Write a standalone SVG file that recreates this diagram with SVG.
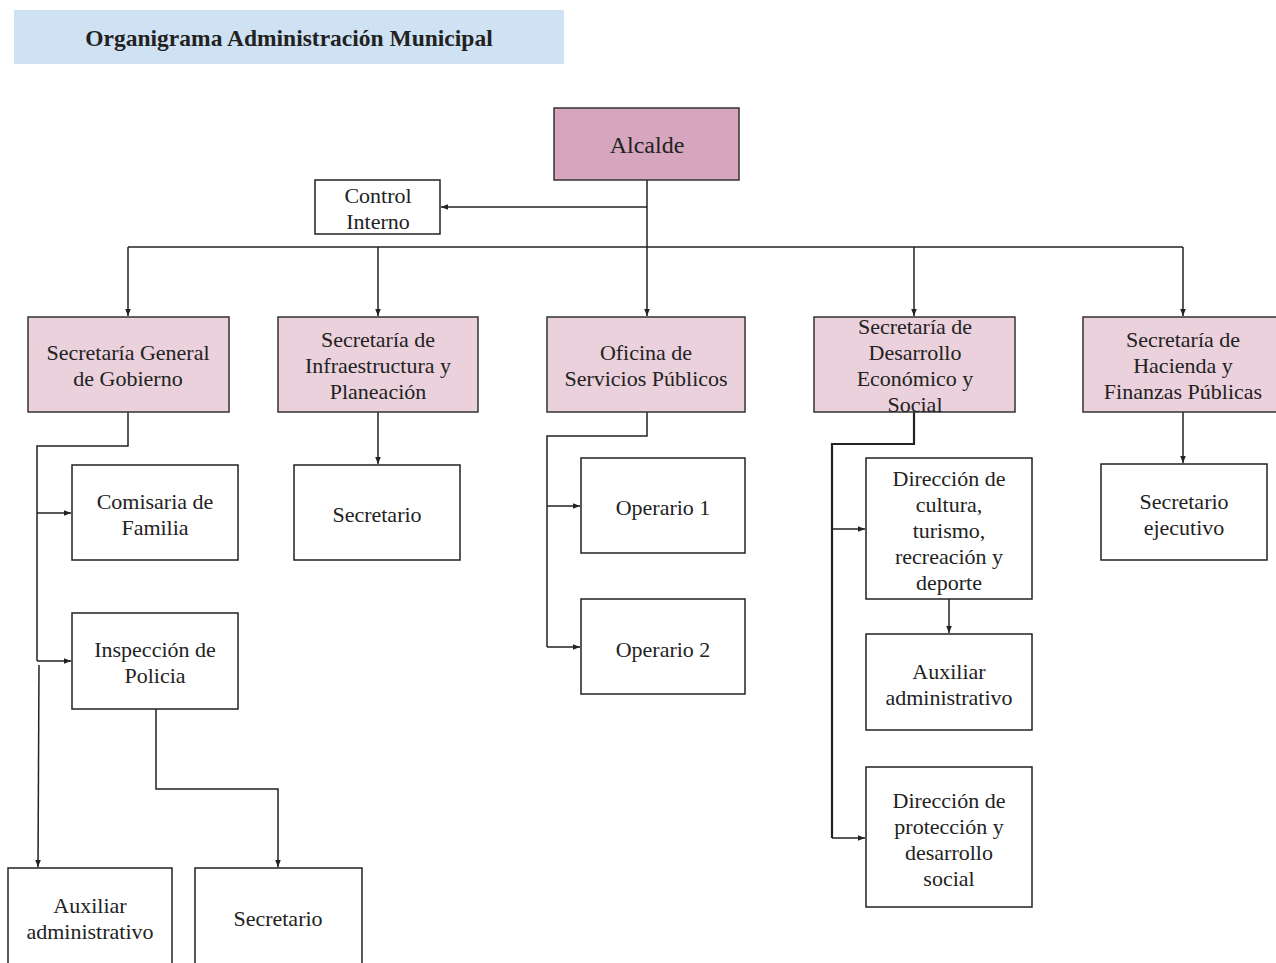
<svg xmlns="http://www.w3.org/2000/svg" width="1276" height="963" viewBox="0 0 1276 963">
<defs>
<marker id="arr" viewBox="0 0 10 10" refX="10" refY="5" markerWidth="7" markerHeight="7" markerUnits="userSpaceOnUse" orient="auto">
<path d="M0,1 L10,5 L0,9 z" fill="#222"/>
</marker>
<style>
.t{font-family:"Liberation Serif","Times New Roman",serif;font-size:22px;fill:#222;text-anchor:middle}
.b{fill:#fff;stroke:#222;stroke-width:1.5}
.p{fill:#ead1dc;stroke:#333;stroke-width:1.5}
.c{fill:none;stroke:#222;stroke-width:1.5}
.ca{fill:none;stroke:#222;stroke-width:1.5;marker-end:url(#arr)}
</style>
</defs>
<rect width="1276" height="963" fill="#fff"/>
<g id="title">
<rect x="14" y="10" width="550" height="54" fill="#cfe2f3"/>
<text x="289" y="46" class="t" style="font-weight:bold;font-size:23.5px">Organigrama Administración Municipal</text>
</g>
<g id="connectors">
<line x1="647" y1="180" x2="647" y2="316" class="ca"/>
<line x1="647" y1="207" x2="441" y2="207" class="ca"/>
<line x1="128" y1="247" x2="1183" y2="247" class="c"/>
<line x1="128" y1="247" x2="128" y2="316" class="ca"/>
<line x1="378" y1="247" x2="378" y2="316" class="ca"/>
<line x1="914" y1="247" x2="914" y2="316" class="ca"/>
<line x1="1183" y1="247" x2="1183" y2="316" class="ca"/>
<polyline points="128,412 128,446 37,446 37,661" class="c"/>
<line x1="37" y1="513" x2="71" y2="513" class="ca"/>
<line x1="37" y1="661" x2="71" y2="661" class="ca"/>
<line x1="39" y1="665" x2="38" y2="867" class="ca"/>
<polyline points="156,709 156,789 278,789 278,867" class="ca"/>
<line x1="378" y1="412" x2="378" y2="464" class="ca"/>
<polyline points="647,412 647,436 547,436 547,647" class="c"/>
<line x1="547" y1="506" x2="580" y2="506" class="ca"/>
<line x1="547" y1="647" x2="580" y2="647" class="ca"/>
<polyline points="914,412 914,444 832,444 832,838" fill="none" stroke="#222" stroke-width="2.2"/>
<line x1="832" y1="529" x2="865" y2="529" class="ca"/>
<line x1="832" y1="838" x2="865" y2="838" class="ca"/>
<line x1="949" y1="599" x2="949" y2="633" class="ca"/>
<line x1="1183" y1="412" x2="1183" y2="463" class="ca"/>
</g>
<g id="alcalde">
<rect x="554" y="108" width="185" height="72" fill="#d5a6bd" stroke="#333" stroke-width="1.5"/>
<text x="647" y="153" class="t" style="font-size:24px">Alcalde</text>
</g>
<g id="control-interno">
<rect x="315" y="180" width="125" height="54" class="b"/>
<text class="t"><tspan x="378" y="203">Control</tspan><tspan x="378" y="229">Interno</tspan></text>
</g>
<g id="sec-gobierno">
<rect x="28" y="317" width="201" height="95" class="p"/>
<text class="t"><tspan x="128" y="360">Secretaría General</tspan><tspan x="128" y="386">de Gobierno</tspan></text>
</g>
<g id="sec-infraestructura">
<rect x="278" y="317" width="200" height="95" class="p"/>
<text class="t"><tspan x="378" y="347">Secretaría de</tspan><tspan x="378" y="373">Infraestructura y</tspan><tspan x="378" y="399">Planeación</tspan></text>
</g>
<g id="oficina-servicios">
<rect x="547" y="317" width="198" height="95" class="p"/>
<text class="t"><tspan x="646" y="360">Oficina de</tspan><tspan x="646" y="386">Servicios Públicos</tspan></text>
</g>
<g id="sec-desarrollo">
<rect x="814" y="317" width="201" height="95" class="p"/>
<text class="t"><tspan x="915" y="334">Secretaría de</tspan><tspan x="915" y="360">Desarrollo</tspan><tspan x="915" y="386">Económico y</tspan><tspan x="915" y="412">Social</tspan></text>
</g>
<g id="sec-hacienda">
<rect x="1083" y="317" width="194" height="95" class="p"/>
<text class="t"><tspan x="1183" y="347">Secretaría de</tspan><tspan x="1183" y="373">Hacienda y</tspan><tspan x="1183" y="399">Finanzas Públicas</tspan></text>
</g>
<g id="comisaria">
<rect x="72" y="465" width="166" height="95" class="b"/>
<text class="t"><tspan x="155" y="509">Comisaria de</tspan><tspan x="155" y="535">Familia</tspan></text>
</g>
<g id="inspeccion">
<rect x="72" y="613" width="166" height="96" class="b"/>
<text class="t"><tspan x="155" y="657">Inspección de</tspan><tspan x="155" y="683">Policia</tspan></text>
</g>
<g id="auxiliar-gobierno">
<rect x="8" y="868" width="164" height="100" class="b"/>
<text class="t"><tspan x="90" y="913">Auxiliar</tspan><tspan x="90" y="939">administrativo</tspan></text>
</g>
<g id="secretario-inspeccion">
<rect x="195" y="868" width="167" height="100" class="b"/>
<text x="278" y="926" class="t">Secretario</text>
</g>
<g id="secretario-infra">
<rect x="294" y="465" width="166" height="95" class="b"/>
<text x="377" y="522" class="t">Secretario</text>
</g>
<g id="operario1">
<rect x="581" y="458" width="164" height="95" class="b"/>
<text x="663" y="515" class="t">Operario 1</text>
</g>
<g id="operario2">
<rect x="581" y="599" width="164" height="95" class="b"/>
<text x="663" y="657" class="t">Operario 2</text>
</g>
<g id="dir-cultura">
<rect x="866" y="458" width="166" height="141" class="b"/>
<text class="t"><tspan x="949" y="486">Dirección de</tspan><tspan x="949" y="512">cultura,</tspan><tspan x="949" y="538">turismo,</tspan><tspan x="949" y="564">recreación y</tspan><tspan x="949" y="590">deporte</tspan></text>
</g>
<g id="auxiliar-cultura">
<rect x="866" y="634" width="166" height="96" class="b"/>
<text class="t"><tspan x="949" y="679">Auxiliar</tspan><tspan x="949" y="705">administrativo</tspan></text>
</g>
<g id="dir-proteccion">
<rect x="866" y="767" width="166" height="140" class="b"/>
<text class="t"><tspan x="949" y="808">Dirección de</tspan><tspan x="949" y="834">protección y</tspan><tspan x="949" y="860">desarrollo</tspan><tspan x="949" y="886">social</tspan></text>
</g>
<g id="secretario-ejecutivo">
<rect x="1101" y="464" width="166" height="96" class="b"/>
<text class="t"><tspan x="1184" y="509">Secretario</tspan><tspan x="1184" y="535">ejecutivo</tspan></text>
</g>
</svg>
